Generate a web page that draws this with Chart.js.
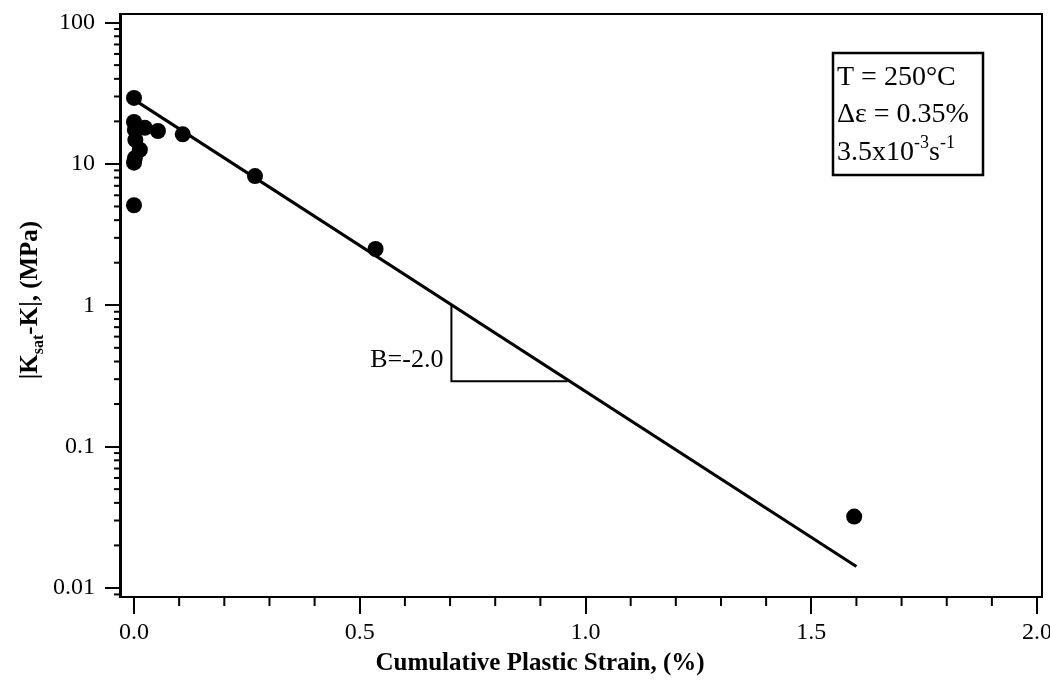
<!DOCTYPE html>
<html>
<head>
<meta charset="utf-8">
<script src="https://cdn.jsdelivr.net/npm/chart.js@4"></script>
<style>
  html, body { margin: 0; padding: 0; background: #fff; }
</style>
</head>
<body>
<canvas id="chart" width="1050" height="687"></canvas>
<script>
const strainPts = [0.0, 0.0, 0.002, 0.024, 0.053, 0.003, 0.013, 0.002, 0.0, 0.108, 0.268, 0.535, 0.0, 1.595];
const kDiff = [29.3, 19.8, 17.4, 18.0, 17.1, 14.8, 12.6, 11.0, 10.2, 16.2, 8.2, 2.5, 5.1, 0.032];

// fitted line
const fitStrain = [0.0, 1.6];
const fitK = [28.5, 0.0142];

// slope triangle
const triStrain = [0.703, 0.703, 0.96];
const triK = [1.0, 0.29, 0.29];

const xMajor = [0.0, 0.5, 1.0, 1.5, 2.0];
const yMajor = [0.01, 0.1, 1, 10, 100];
const yLabels = ['0.01', '0.1', '1', '10', '100'];

const noteLines = ['T = 250°C', 'Δε = 0.35%'];
const slopeLabel = 'B=-2.0';
const xTitle = 'Cumulative Plastic Strain, (%)';

const SERIF = '"Liberation Serif", "Times New Roman", serif';

function pairs(xs, ys) {
  return xs.map((x, i) => ({ x: x, y: ys[i] }));
}

// minor ticks, frame, notes, axis titles
const decor = {
  id: 'decor',
  afterDraw(chart) {
    const ctx = chart.ctx;
    const a = chart.chartArea;
    const xs = chart.scales.x, ys = chart.scales.y;
    ctx.save();
    ctx.strokeStyle = '#000';
    ctx.fillStyle = '#000';

    // frame
    ctx.lineWidth = 2;
    ctx.strokeRect(a.left, a.top, a.right - a.left, a.bottom - a.top);

    // minor x ticks
    for (let i = 1; i < 20; i++) {
      if (i % 5 === 0) continue;
      const px = xs.getPixelForValue(i / 10);
      ctx.beginPath();
      ctx.moveTo(px, a.bottom);
      ctx.lineTo(px, a.bottom + 9);
      ctx.stroke();
    }
    // minor y ticks
    for (let d = -3; d <= 2; d++) {
      for (let m = 2; m <= 9; m++) {
        const v = m * Math.pow(10, d);
        if (v < ys.min || v > ys.max) continue;
        const py = ys.getPixelForValue(v);
        ctx.beginPath();
        ctx.moveTo(a.left - 6, py);
        ctx.lineTo(a.left, py);
        ctx.stroke();
      }
    }

    // slope label
    ctx.font = '26px ' + SERIF;
    ctx.textAlign = 'right';
    ctx.textBaseline = 'alphabetic';
    ctx.fillText(slopeLabel, xs.getPixelForValue(triStrain[0]) - 8, ys.getPixelForValue(0.43) + 10);

    // note box
    const bx = 833, by = 53, bw = 150, bh = 122;
    ctx.lineWidth = 2.5;
    ctx.strokeRect(bx, by, bw, bh);
    ctx.textAlign = 'left';
    ctx.font = '28px ' + SERIF;
    ctx.fillText(noteLines[0], bx + 4, by + 32);
    ctx.fillText(noteLines[1], bx + 4, by + 69);
    let tx = bx + 4;
    const base3 = by + 107;
    ctx.fillText('3.5x10', tx, base3);
    tx += ctx.measureText('3.5x10').width;
    ctx.font = '18px ' + SERIF;
    ctx.fillText('-3', tx, base3 - 12);
    tx += ctx.measureText('-3').width;
    ctx.font = '28px ' + SERIF;
    ctx.fillText('s', tx, base3);
    tx += ctx.measureText('s').width;
    ctx.font = '18px ' + SERIF;
    ctx.fillText('-1', tx, base3 - 12);

    // x axis title
    ctx.font = 'bold 25px ' + SERIF;
    ctx.textAlign = 'center';
    ctx.fillText(xTitle, 540, 670);

    // y axis title with subscript
    ctx.textAlign = 'left';
    ctx.translate(37, 300);
    ctx.rotate(-Math.PI / 2);
    const big = 'bold 25px ' + SERIF, small = 'bold 16px ' + SERIF;
    const parts = [['|K', big, 0], ['sat', small, 6], ['-K|, (MPa)', big, 0]];
    let total = 0;
    parts.forEach(p => { ctx.font = p[1]; total += ctx.measureText(p[0]).width; });
    let cx = -total / 2;
    parts.forEach(p => {
      ctx.font = p[1];
      ctx.fillText(p[0], cx, p[2]);
      cx += ctx.measureText(p[0]).width;
    });
    ctx.restore();
  }
};

new Chart(document.getElementById('chart'), {
  type: 'scatter',
  data: {
    datasets: [
      {
        data: pairs(strainPts, kDiff),
        backgroundColor: '#000',
        borderWidth: 0,
        pointRadius: 8,
        showLine: false
      },
      {
        data: pairs(fitStrain, fitK),
        showLine: true,
        borderColor: '#000',
        borderWidth: 3,
        pointRadius: 0
      },
      {
        data: pairs(triStrain, triK),
        showLine: true,
        borderColor: '#000',
        borderWidth: 2,
        pointRadius: 0
      }
    ]
  },
  plugins: [decor],
  options: {
    responsive: false,
    animation: false,
    layout: { padding: { top: 14, right: 8, left: 0, bottom: 0 } },
    plugins: { legend: { display: false }, tooltip: { enabled: false } },
    scales: {
      x: {
        type: 'linear',
        min: -0.031,
        max: 2.011,
        afterBuildTicks: s => { s.ticks = xMajor.map(v => ({ value: v })); },
        afterFit: s => { s.height = 90; s.paddingLeft = 0; s.paddingRight = 0; },
        ticks: {
          color: '#000',
          font: { family: SERIF, size: 24 },
          padding: 4,
          maxRotation: 0,
          autoSkip: false,
          callback: v => Number(v).toFixed(1)
        },
        grid: { drawOnChartArea: false, drawTicks: true, tickLength: 17, color: '#000', lineWidth: 2 },
        border: { display: true, color: '#000', width: 2 }
      },
      y: {
        type: 'logarithmic',
        min: 0.00863,
        max: 115,
        afterBuildTicks: s => { s.ticks = yMajor.map(v => ({ value: v })); },
        afterFit: s => { s.width = 120; s.paddingTop = 0; s.paddingBottom = 0; },
        ticks: {
          color: '#000',
          font: { family: SERIF, size: 24 },
          padding: 10,
          autoSkip: false,
          callback: v => yLabels[yMajor.indexOf(v)] || ''
        },
        grid: { drawOnChartArea: false, drawTicks: true, tickLength: 15, color: '#000', lineWidth: 2 },
        border: { display: true, color: '#000', width: 3 }
      }
    }
  }
});
</script>
</body>
</html>
